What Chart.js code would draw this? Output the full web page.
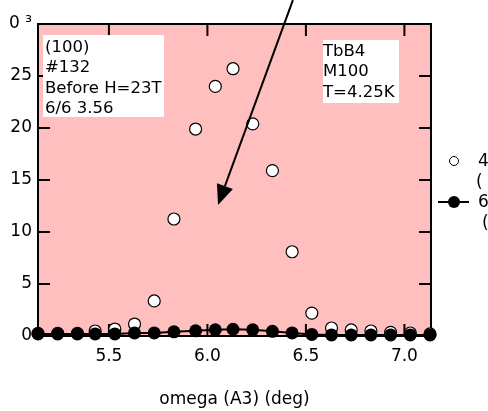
<!DOCTYPE html>
<html lang="en">
<head>
  <meta charset="UTF-8">
  <title>omega scan</title>
  <script src="https://cdn.jsdelivr.net/npm/chart.js"></script>
  <style>
    html, body { margin: 0; padding: 0; background: #fff; }
    #caja { width: 488px; height: 411px; }
  </style>
</head>
<body>
  <div id="caja"><canvas id="grafico"></canvas></div>

  <script>
    // omega (deg) of every scan point
    const omega = [5.14, 5.24, 5.34, 5.43, 5.53, 5.63, 5.73, 5.83, 5.94, 6.04, 6.13,
                   6.23, 6.33, 6.43, 6.53, 6.63, 6.73, 6.83, 6.93, 7.03, 7.13];
    // counts x10^3, open circles
    const cuentasAbiertos = [0.25, 0.25, 0.25, 0.48, 0.67, 1.15, 3.37, 11.25, 19.9, 24.0, 25.7,
                             20.4, 15.9, 8.1, 2.2, 0.77, 0.58, 0.48, 0.35, 0.29, 0.2];
    // counts x10^3, filled circles
    const cuentasLlenos = [0.2, 0.2, 0.2, 0.2, 0.2, 0.3, 0.3, 0.4, 0.5, 0.6, 0.65,
                           0.6, 0.45, 0.3, 0.15, 0.1, 0.1, 0.1, 0.1, 0.1, 0.1];
    const ticksX = [5.5, 6.0, 6.5, 7.0];
    const ticksY = [0, 5, 10, 15, 20, 25, 30];
    const leyendaAbiertos = ["4.25K", "( before)"];
    const leyendaLlenos = ["6.0K", "( after)"];
    const notaIzq = ["(100)", "#132", "Before H=23T", "6/6 3.56"];
    const notaDer = ["TbB4", "M100", "T=4.25K"];
    const flechaDesde = [6.434, 32.3];
    const flechaHasta = [6.054, 12.6];

    const fuente = "DejaVu Sans";
    const rosa = "rgb(255,191,191)";

    const marco = {
      id: "marco",
      beforeDatasetsDraw(chart) {
        const { ctx, chartArea: a, scales } = chart;
        ctx.save();
        ctx.fillStyle = rosa;
        ctx.fillRect(a.left, a.top, a.right - a.left, a.bottom - a.top);
        ctx.strokeStyle = "#000";
        ctx.lineWidth = 2;
        ctx.strokeRect(a.left, a.top, a.right - a.left, a.bottom - a.top);
        ctx.beginPath();
        ticksX.forEach(v => {
          const x = scales.x.getPixelForValue(v);
          ctx.moveTo(x, a.top); ctx.lineTo(x, a.top + 12);
          ctx.moveTo(x, a.bottom); ctx.lineTo(x, a.bottom - 12);
        });
        ticksY.forEach(v => {
          const y = scales.y.getPixelForValue(v);
          ctx.moveTo(a.left, y); ctx.lineTo(a.left + 12, y);
          ctx.moveTo(a.right, y); ctx.lineTo(a.right - 12, y);
        });
        ctx.stroke();

        // note boxes
        ctx.font = "16.5px '" + fuente + "'";
        ctx.textBaseline = "top";
        ctx.fillStyle = "#fff";
        ctx.fillRect(a.left + 5, a.top + 11, 121, 82);
        ctx.fillRect(a.left + 285, a.top + 16, 76, 63);
        ctx.fillStyle = "#000";
        notaIzq.forEach((t, i) => ctx.fillText(t, a.left + 7, a.top + 15 + i * 20.5));
        notaDer.forEach((t, i) => ctx.fillText(t, a.left + 285, a.top + 19 + i * 20.5));
        ctx.restore();
      },
      afterDraw(chart) {
        const { ctx, scales } = chart;
        ctx.save();
        // arrow
        const x0 = scales.x.getPixelForValue(flechaDesde[0]);
        const y0 = scales.y.getPixelForValue(flechaDesde[1]);
        const x1 = scales.x.getPixelForValue(flechaHasta[0]);
        const y1 = scales.y.getPixelForValue(flechaHasta[1]);
        const ang = Math.atan2(y1 - y0, x1 - x0);
        const largo = 20, ancho = 8.5;
        const bx = x1 - largo * Math.cos(ang), by = y1 - largo * Math.sin(ang);
        ctx.strokeStyle = "#000";
        ctx.lineWidth = 2;
        ctx.beginPath();
        ctx.moveTo(x0, y0); ctx.lineTo(bx, by);
        ctx.stroke();
        ctx.fillStyle = "#000";
        ctx.beginPath();
        ctx.moveTo(x1, y1);
        ctx.lineTo(bx + ancho * Math.sin(ang), by - ancho * Math.cos(ang));
        ctx.lineTo(bx - ancho * Math.sin(ang), by + ancho * Math.cos(ang));
        ctx.closePath();
        ctx.fill();

        // legend at the right edge
        const ds = chart.data.datasets;
        ctx.font = "17px '" + fuente + "'";
        ctx.textBaseline = "middle";
        ctx.lineWidth = 1;
        ctx.fillStyle = "#fff";
        ctx.beginPath(); ctx.arc(454, 161, 4.5, 0, Math.PI * 2); ctx.fill(); ctx.stroke();
        ctx.fillStyle = "#000";
        ctx.fillText(ds[1].label[0], 478, 162);
        ctx.fillText(ds[1].label[1], 476, 183);
        ctx.lineWidth = 2;
        ctx.beginPath(); ctx.moveTo(438, 202); ctx.lineTo(469, 202); ctx.stroke();
        ctx.beginPath(); ctx.arc(454, 202, 6, 0, Math.PI * 2); ctx.fill();
        ctx.fillText(ds[0].label[0], 478, 203);
        ctx.fillText(ds[0].label[1], 482, 224);
        ctx.restore();
      }
    };

    new Chart(document.getElementById("grafico"), {
      type: "scatter",
      data: {
        datasets: [
          {
            label: leyendaLlenos,
            data: omega.map((x, i) => ({ x: x, y: cuentasLlenos[i] })),
            showLine: true,
            borderColor: "#000",
            borderWidth: 2,
            backgroundColor: "#000",
            pointRadius: 6.5,
            pointBorderWidth: 0,
            clip: false,
            order: 0
          },
          {
            label: leyendaAbiertos,
            data: omega.map((x, i) => ({ x: x, y: cuentasAbiertos[i] })),
            showLine: false,
            borderColor: "#000",
            backgroundColor: "#fff",
            pointRadius: 6,
            pointBorderWidth: 1.2,
            clip: false,
            order: 1
          }
        ]
      },
      options: {
        responsive: true,
        maintainAspectRatio: false,
        animation: false,
        layout: { padding: { left: 0, right: 57, top: 24, bottom: 0 } },
        plugins: { legend: { display: false }, tooltip: { enabled: false } },
        scales: {
          x: {
            type: "linear",
            min: 5.14,
            max: 7.135,
            grid: { display: false, drawTicks: false },
            border: { display: false },
            afterBuildTicks: s => { s.ticks = ticksX.map(v => ({ value: v })); },
            afterFit: s => { s.height = 75; },
            ticks: {
              color: "#000",
              padding: 10,
              font: { family: fuente, size: 17 },
              callback: v => v.toFixed(1)
            },
            title: {
              display: true,
              text: "omega (A3) (deg)",
              color: "#000",
              font: { family: fuente, size: 17 },
              padding: { top: 0, bottom: 1 }
            }
          },
          y: {
            min: 0,
            max: 30,
            grid: { display: false, drawTicks: false },
            border: { display: false },
            afterBuildTicks: s => { s.ticks = ticksY.map(v => ({ value: v })); },
            afterFit: s => { s.width = 38; },
            ticks: {
              color: "#000",
              padding: 6,
              font: { family: fuente, size: 17 },
              callback: v => (v === 30 ? "0 \u00b3" : String(v))
            }
          }
        }
      },
      plugins: [marco]
    });
  </script>
</body>
</html>
